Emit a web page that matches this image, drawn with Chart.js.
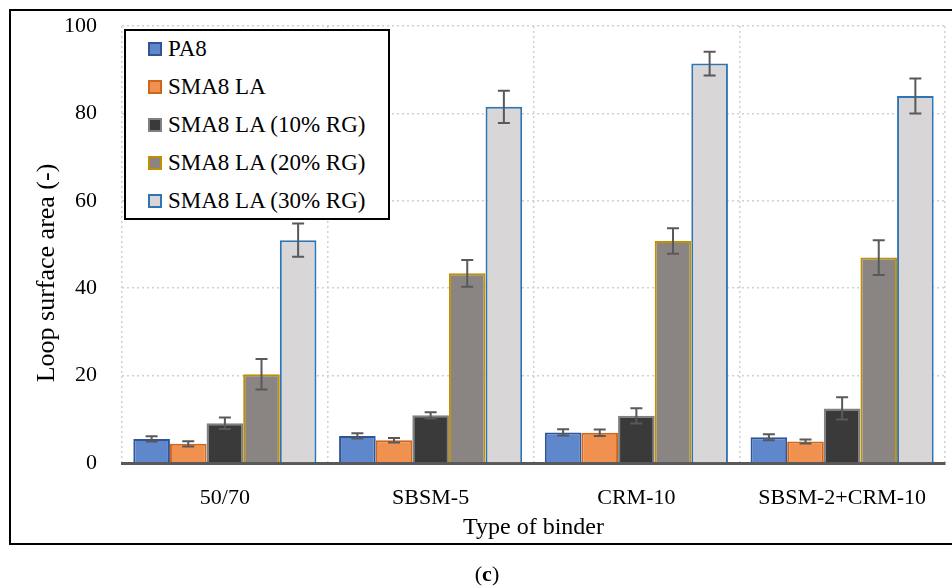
<!DOCTYPE html>
<html>
<head>
<meta charset="utf-8">
<title>Loop surface area by binder type</title>
<script src="https://cdn.jsdelivr.net/npm/chart.js@4/dist/chart.umd.min.js"></script>
<style>
  body { margin: 0; background: #fff; width: 952px; height: 586px; overflow: hidden; position: relative; font-family: 'Liberation Serif', serif; }
  #frame { position: absolute; left: 9px; top: 9px; width: 980px; height: 536px; box-sizing: border-box; border: 2px solid #000; }
  #chartWrap { position: absolute; left: 0; top: 0; width: 952px; height: 586px; }
  #legend { position: absolute; left: 124px; top: 29px; width: 266px; height: 191px; box-sizing: border-box; border: 2px solid #000; background: #fff; }
  #legend .row { position: absolute; left: 22px; height: 26px; line-height: 26px; font-size: 23px; color: #000; white-space: nowrap; }
  #legend .box { display: inline-block; width: 14px; height: 14px; box-sizing: border-box; border: 2px solid; vertical-align: middle; margin-right: 6px; position: relative; top: -2px; }
  #caption { position: absolute; left: 0; width: 974px; top: 561px; text-align: center; font-size: 22px; color: #000; }
</style>
</head>
<body>
<div id="frame"></div>
<div id="chartWrap"><canvas id="loopChart" width="952" height="586"></canvas></div>
<div id="legend"></div>
<div id="caption">(<b>c</b>)</div>

<script>
// Binder types on the x axis
const categories = ['50/70', 'SBSM-5', 'CRM-10', 'SBSM-2+CRM-10'];

// Mixture names (one series each)
const seriesNames = ['PA8', 'SMA8 LA', 'SMA8 LA (10% RG)', 'SMA8 LA (20% RG)', 'SMA8 LA (30% RG)'];

// Mean loop surface area per mixture
const pa8 = [5.5, 6.2, 7.0, 5.9];
const sma8 = [4.4, 5.2, 6.9, 4.9];
const sma8rg10 = [9.1, 10.9, 10.8, 12.5];
const sma8rg20 = [20.3, 43.4, 50.8, 47.0];
const sma8rg30 = [51.0, 81.5, 91.4, 84.0];

// Standard deviations (error bars)
const pa8Err = [0.6, 0.6, 0.7, 0.7];
const sma8Err = [0.6, 0.5, 0.75, 0.45];
const sma8rg10Err = [1.3, 0.7, 1.75, 2.55];
const sma8rg20Err = [3.5, 3.05, 2.9, 4.0];
const sma8rg30Err = [3.8, 3.7, 2.7, 4.0];

// Y axis tick range
const yMin = 0, yMax = 100, yStep = 20;

const values = [pa8, sma8, sma8rg10, sma8rg20, sma8rg30];
const errors = [pa8Err, sma8Err, sma8rg10Err, sma8rg20Err, sma8rg30Err];
const fills = ['#5f87cb', '#f0914f', '#3a3a3a', '#8a8583', '#d8d6d7'];
const borders = ['#2f5597', '#d0651c', '#808080', '#bf9000', '#2e75b6'];

const FONT = "'Liberation Serif', serif";

// Draws the +/- error whiskers on top of every bar
const errorBarPlugin = {
  id: 'errorBars',
  afterDatasetsDraw(chart) {
    const ctx = chart.ctx;
    const yScale = chart.scales.y;
    ctx.save();
    ctx.strokeStyle = '#595959';
    ctx.lineWidth = 2;
    chart.data.datasets.forEach((ds, i) => {
      const meta = chart.getDatasetMeta(i);
      meta.data.forEach((bar, j) => {
        const v = ds.data[j];
        const e = ds.errors[j];
        const yTop = yScale.getPixelForValue(v + e);
        const yBot = yScale.getPixelForValue(v - e);
        const x = bar.x;
        ctx.beginPath();
        ctx.moveTo(x, yTop); ctx.lineTo(x, yBot);
        ctx.moveTo(x - 6, yTop); ctx.lineTo(x + 6, yTop);
        ctx.moveTo(x - 6, yBot); ctx.lineTo(x + 6, yBot);
        ctx.stroke();
      });
    });
    ctx.restore();
  }
};

// Rotated y axis title, placed by hand
const yTitlePlugin = {
  id: 'yTitle',
  afterDraw(chart) {
    const ctx = chart.ctx;
    ctx.save();
    ctx.translate(47, 273);
    ctx.rotate(-Math.PI / 2);
    ctx.font = '26px ' + FONT;
    ctx.fillStyle = '#000';
    ctx.textAlign = 'center';
    ctx.textBaseline = 'middle';
    ctx.fillText('Loop surface area (-)', 0, 0);
    ctx.restore();
  }
};

function buildLegend() {
  const legend = document.getElementById('legend');
  seriesNames.forEach((name, i) => {
    const row = document.createElement('div');
    row.className = 'row';
    row.style.top = (5 + i * 38) + 'px';
    const box = document.createElement('span');
    box.className = 'box';
    box.style.background = fills[i];
    box.style.borderColor = borders[i];
    row.appendChild(box);
    row.appendChild(document.createTextNode(name));
    legend.appendChild(row);
  });
}

function renderChart() {
  const ctx = document.getElementById('loopChart').getContext('2d');
  new Chart(ctx, {
    type: 'bar',
    data: {
      labels: categories,
      datasets: seriesNames.map((name, i) => ({
        label: name,
        data: values[i],
        errors: errors[i],
        backgroundColor: fills[i],
        borderColor: borders[i],
        borderWidth: 2,
        categoryPercentage: 0.89,
        barPercentage: 1.0
      }))
    },
    options: {
      responsive: false,
      animation: false,
      devicePixelRatio: 1,
      layout: { padding: { left: 0, top: 26, right: 7, bottom: 0 } },
      scales: {
        x: {
          afterFit: s => { s.height = 123; },
          grid: { offset: true, color: '#d0d0d0', lineWidth: 1.5, drawTicks: false },
          border: { display: true, color: '#595959', width: 3, dash: [2, 3] },
          ticks: { color: '#000', padding: 22, font: { family: FONT, size: 22 } },
          title: {
            display: true, text: 'Type of binder', color: '#000',
            font: { family: FONT, size: 24 }, padding: { top: 0, bottom: 44 }
          }
        },
        y: {
          min: yMin, max: yMax,
          afterFit: s => { s.width = 122; s.paddingTop = 0; s.paddingBottom = 0; },
          grid: { color: '#d0d0d0', lineWidth: 1.5, drawTicks: false },
          border: { display: false, dash: [2, 3] },
          ticks: { stepSize: yStep, color: '#000', padding: 25, font: { family: FONT, size: 22 } }
        }
      },
      plugins: {
        legend: { display: false },
        tooltip: { enabled: false }
      }
    },
    plugins: [errorBarPlugin, yTitlePlugin]
  });
}

document.addEventListener('DOMContentLoaded', function() {
  buildLegend();
  renderChart();
});
</script>
</body>
</html>
